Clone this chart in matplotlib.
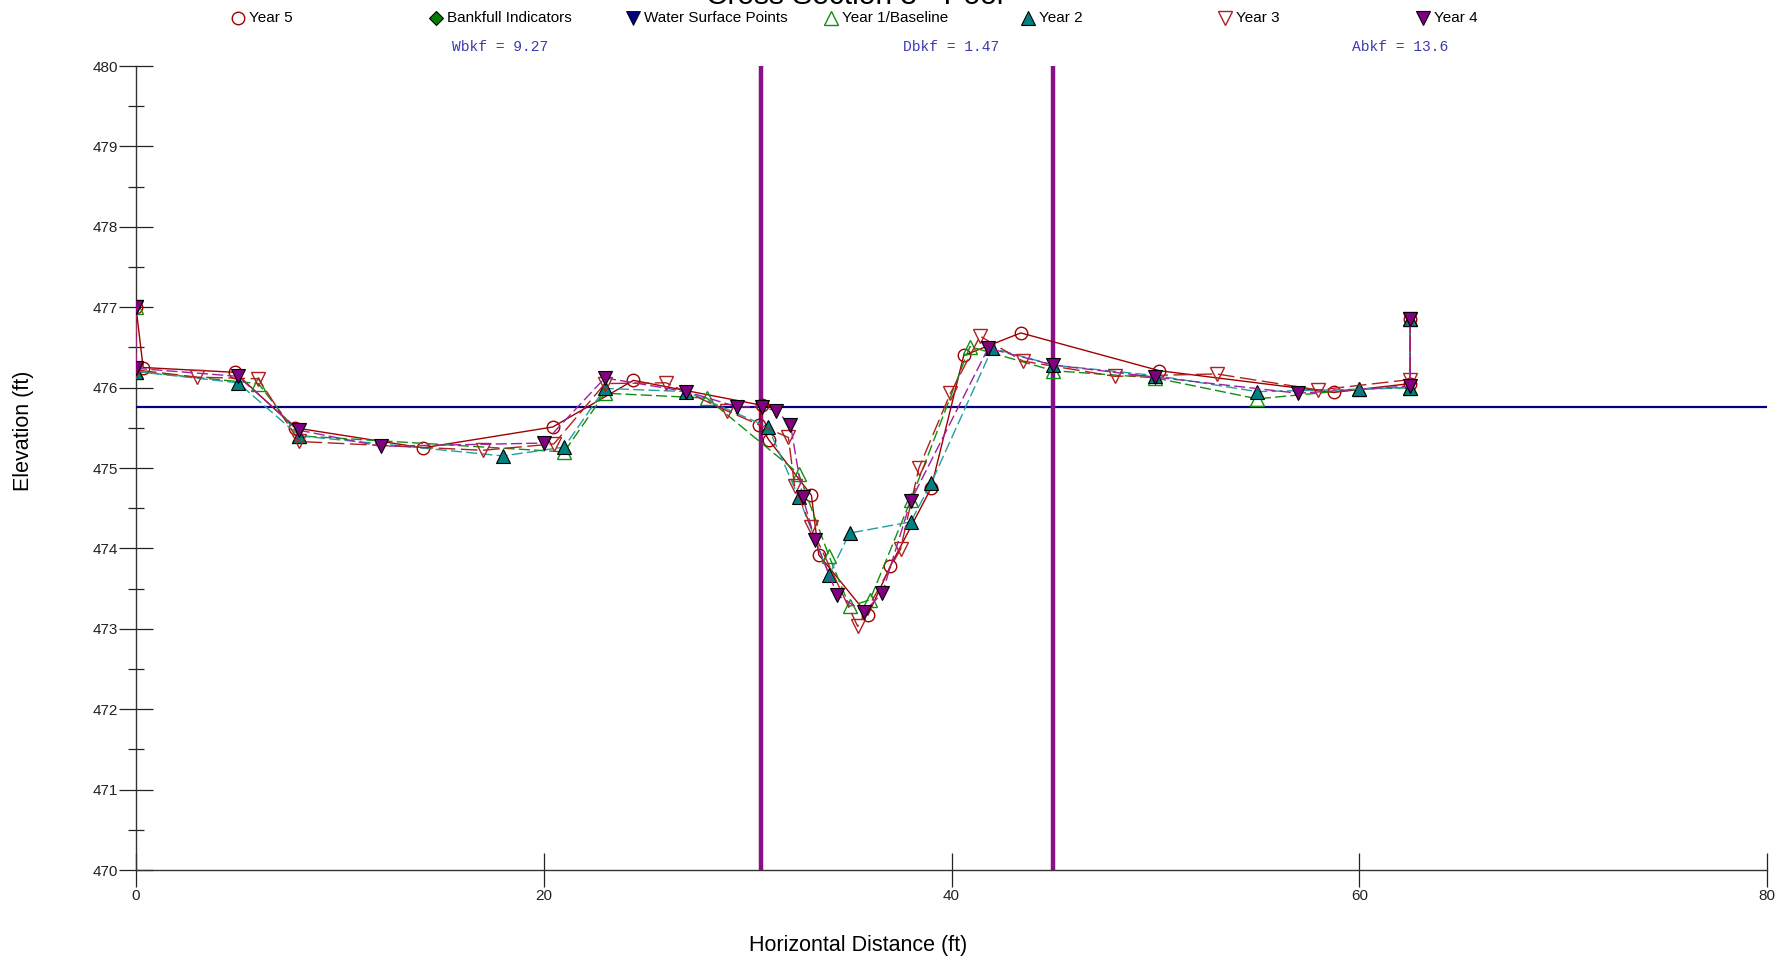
import matplotlib
matplotlib.use("Agg")
import matplotlib.pyplot as plt
from matplotlib.ticker import MultipleLocator

plt.rcParams['font.family'] = ['Liberation Sans', 'DejaVu Sans']

# ---------------- data ----------------
title = "Cross Section 3 - Pool"
xlabel = "Horizontal Distance (ft)"
ylabel = "Elevation (ft)"

y1_x = [0, 0, 6, 8, 21, 23, 28, 32.5, 34, 35, 36, 38, 40.9, 45, 50, 55, 60, 62.5, 62.5]
y1_y = [477.0, 476.2, 476.05, 475.4, 475.2, 475.93, 475.87, 474.93, 473.9, 473.28, 473.36, 474.6,
        476.51, 476.21, 476.12, 475.86, 475.98, 476.0, 476.85]

y2_x = [0, 5, 8, 18, 21, 23, 27, 31.0, 32.5, 34, 35, 38, 39, 42, 45, 50, 55, 60, 62.5, 62.5]
y2_y = [476.2, 476.06, 475.4, 475.15, 475.26, 475.99, 475.95, 475.51, 474.64, 473.67, 474.19,
        474.33, 474.81, 476.49, 476.28, 476.15, 475.95, 475.98, 476.0, 476.85]

y3_x = [0, 0, 3, 6, 8, 17, 20.5, 23, 26, 29, 32, 32.3, 33.1, 35.4, 37.5, 38.4, 39.95, 41.4, 43.5,
        48, 53, 58, 62.5, 62.5]
y3_y = [477.0, 476.22, 476.13, 476.11, 475.33, 475.22, 475.3, 476.05, 476.06, 475.71, 475.38,
        474.78, 474.27, 473.03, 473.99, 475.0, 475.93, 476.64, 476.33, 476.14, 476.17, 475.97,
        476.1, 476.85]

y4_x = [0, 0, 5, 8, 12, 20, 23, 27, 29.5, 30.7, 31.4, 32.1, 32.7, 33.3, 34.4, 35.7, 36.6, 38,
        41.8, 45, 50, 57, 62.5, 62.5]
y4_y = [477.0, 476.24, 476.14, 475.47, 475.27, 475.31, 476.12, 475.95, 475.76, 475.76, 475.71,
        475.54, 474.64, 474.11, 473.42, 473.21, 473.44, 474.59, 476.49, 476.28, 476.13, 475.93,
        476.02, 476.85]

y5_x = [0, 0.35, 4.85, 7.8, 14.07, 20.44, 24.4, 30.7, 30.55, 31.04, 33.13, 33.49, 35.9, 37.0,
        39.0, 40.6, 43.4, 50.2, 58.75, 62.5, 62.5]
y5_y = [477.0, 476.25, 476.19, 475.5, 475.25, 475.51, 476.09, 475.78, 475.54, 475.35, 474.66,
        473.92, 473.17, 473.78, 474.75, 476.4, 476.68, 476.21, 475.94, 476.05, 476.85]

water_surface = 475.76
bankfull_x = [30.65, 45.0]

legend_labels = ["Year 5", "Bankfull Indicators", "Water Surface Points", "Year 1/Baseline",
                 "Year 2", "Year 3", "Year 4"]
stats = ["Wbkf = 9.27", "Dbkf = 1.47", "Abkf = 13.6"]

xlim = (0, 80)
ylim = (470, 480)
xticks = [0, 20, 40, 60, 80]
yticks = list(range(470, 481))

# ---------------- figure ----------------
W, H = 1779, 961
fig = plt.figure(figsize=(W / 100, H / 100), dpi=100)
ax = fig.add_axes([136 / W, 1 - 870 / H, (1767 - 136) / W, (870 - 66) / H])

c_y5 = "#a00000"
c_y3 = "#b02020"
c_y1 = "#109010"
c_y2 = "#008080"
c_y4 = "#800080"
c_ws = "#000080"
c_bk = "#8a108a"

ax.plot(y5_x, y5_y, '-', color=c_y5, lw=1.0, marker='o', ms=9, mfc='none', mec=c_y5, mew=1.0, zorder=4)
ax.plot(y1_x, y1_y, '-', color=c_y1, lw=1.0, dashes=(8, 3), marker='^', ms=10, mfc='none',
        mec=c_y1, mew=1.0, zorder=5)
ax.plot(y2_x, y2_y, '-', color="#20a0a0", lw=1.0, dashes=(8, 3), marker='^', ms=10, mfc=c_y2,
        mec='black', mew=0.8, zorder=6)
ax.plot(y3_x, y3_y, '-', color=c_y3, lw=1.0, dashes=(12, 4), marker='v', ms=10, mfc='none',
        mec=c_y3, mew=1.0, zorder=7)
ax.plot(y4_x, y4_y, '-', color="#a020a0", lw=1.0, dashes=(8, 3), marker='v', ms=10, mfc=c_y4,
        mec='black', mew=0.8, zorder=8)

ax.axhline(water_surface, color=c_ws, lw=1.6, zorder=3)
for bx in bankfull_x:
    ax.axvline(bx, color=c_bk, lw=3.2, zorder=3)

ax.set_xlim(*xlim)
ax.set_ylim(*ylim)
ax.set_xticks(xticks)
ax.set_yticks(yticks)
ax.yaxis.set_minor_locator(MultipleLocator(0.5))
ax.tick_params(axis='both', which='major', direction='inout', length=24, width=0.9,
               labelsize=11, pad=1, colors='#222222')
ax.tick_params(axis='y', which='minor', direction='inout', length=12, width=0.9, color='#222222')
ax.tick_params(axis='x', which='major', pad=2)
for s in ['top', 'right']:
    ax.spines[s].set_visible(False)
for s in ['left', 'bottom']:
    ax.spines[s].set_color('#333333')
    ax.spines[s].set_linewidth(1.0)
ax.patch.set_alpha(0)

fig.text(858 / W, 1 - 945 / H, xlabel, ha='center', va='center', fontsize=15.5)
fig.text(23 / W, 1 - 431 / H, ylabel, ha='center', va='center', fontsize=15.5, rotation=90)
fig.text(855 / W, 1 - 4 / H, title, ha='center', va='baseline', fontsize=21.5)

# stats
stat_x = [500, 951, 1400]
for sx, s in zip(stat_x, stats):
    fig.text(sx / W, 1 - 47 / H, s, ha='center', va='center', fontsize=10.5,
             family='Liberation Mono', color='#3a3ab0')

# legend (manual)
lg = fig.add_axes([0, 0, 1, 1])
lg.set_xlim(0, W)
lg.set_ylim(H, 0)
lg.axis('off')
lx = [238, 436, 633, 831, 1028, 1225, 1423]
ly = 18
styles = [
    dict(marker='o', ms=9, mfc='none', mec=c_y5, mew=1.0),
    dict(marker='D', ms=7, mfc='#008000', mec='black', mew=0.8),
    dict(marker='v', ms=10, mfc=c_ws, mec='black', mew=0.6),
    dict(marker='^', ms=10, mfc='none', mec=c_y1, mew=1.0),
    dict(marker='^', ms=10, mfc=c_y2, mec='black', mew=0.8),
    dict(marker='v', ms=10, mfc='none', mec=c_y3, mew=1.0),
    dict(marker='v', ms=10, mfc=c_y4, mec='black', mew=0.8),
]
for x, lab, st in zip(lx, legend_labels, styles):
    lg.plot([x], [ly], linestyle='none', **st)
    lg.text(x + 11, ly, lab, ha='left', va='center', fontsize=11)

fig.savefig("out.png", dpi=100)
